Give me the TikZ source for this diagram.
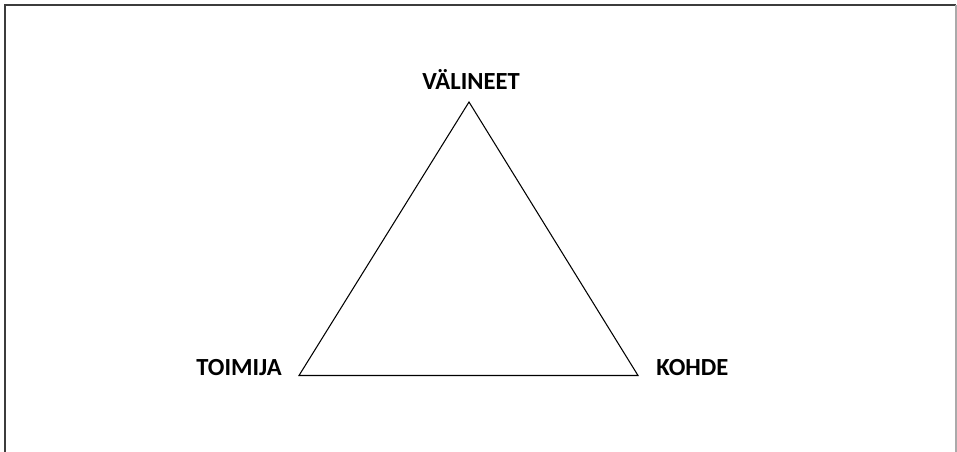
\documentclass[tikz,border=0pt]{standalone}
\usepackage{fontspec}
\setmainfont{Carlito}
\usepackage{xcolor}
\definecolor{framegray}{RGB}{60,60,60}
\definecolor{framelight}{RGB}{170,170,170}
\usetikzlibrary{positioning}

\begin{document}
\begin{tikzpicture}[x=0.02cm, y=-0.02cm,
  corner/.style={font=\fontsize{14}{16}\selectfont\bfseries, inner sep=0pt}]
  \useasboundingbox (0,0) rectangle (957,452);

  % Frame (open at the bottom)
  \draw[framegray, line width=0.6pt] (5,452) -- (5,5) -- (956,5);
  \draw[framelight, line width=0.6pt] (956,5) -- (956,452);

  % Triangle corners
  \coordinate (top) at (469,102);
  \coordinate (left) at (299,375.5);
  \coordinate (right) at (638,375.5);

  % Labels
  \node[corner] (valineet) at (471,79) {VÄLINEET};
  \node[corner, anchor=east] (toimija) at (282,368) {TOIMIJA};
  \node[corner, anchor=west] (kohde) at (656,368) {KOHDE};

  % Triangle
  \draw[line width=0.6pt] (left) -- (top) -- (right) -- cycle;
\end{tikzpicture}
\end{document}
